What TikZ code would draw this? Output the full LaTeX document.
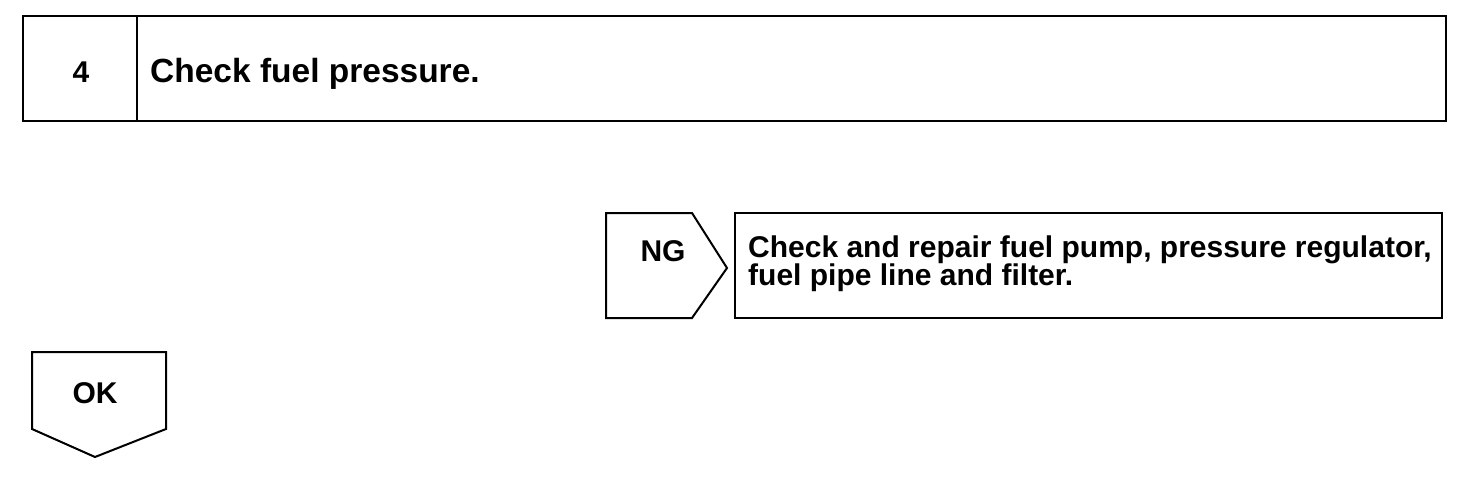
\documentclass[tikz,border=0pt]{standalone}
\usepackage{fontspec}
\setmainfont{Liberation Sans}
\setlength{\lineskiplimit}{-100pt}
\begin{document}
\begin{tikzpicture}[x=1pt,y=-1pt,
  frame/.style={draw=black,line width=2.6pt},
  thin/.style={draw=black,line width=2pt,line join=miter},
  txt/.style={font=\bfseries\fontsize{30}{27.5}\selectfont,inner sep=0pt}]
\useasboundingbox[fill=white] (0,0) rectangle (1472,482);
% top box
\draw[frame] (23,16) rectangle (1446,121);
\draw[frame] (137,16) -- (137,121);
\node[txt,anchor=base] (num) at (81,82) {4};
\node[txt,anchor=base west,font=\bfseries\fontsize{33.5}{33}\selectfont] (title) at (150,82) {Check fuel pressure.};
% NG tag
\draw[thin] (606,213) -- (692,213) -- (727,268) -- (692,318) -- (606,318) -- cycle;
\node[txt,anchor=base] (ng) at (663,261) {NG};
% action box
\draw[thin] (735,213) rectangle (1442,318);
\node[txt,anchor=base west,align=left] (act) at (748,285)
  {Check and repair fuel pump, pressure regulator,\\fuel pipe line and filter.};
% OK tag
\draw[thin] (32,352) -- (166,352) -- (166,429) -- (95,457) -- (32,429) -- cycle;
\node[txt,anchor=base] (ok) at (95,403) {OK};
\end{tikzpicture}
\end{document}
